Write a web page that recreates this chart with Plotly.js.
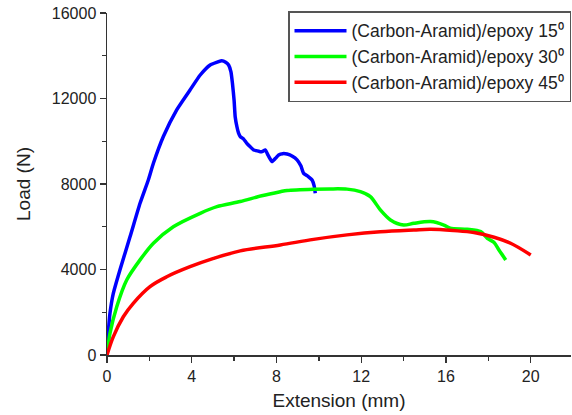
<!DOCTYPE html>
<html>
<head>
<meta charset="utf-8">
<script src="https://cdn.plot.ly/plotly-3.0.1.min.js"></script>
<style>html,body{margin:0;padding:0;background:#fff;}</style>
</head>
<body>
<div id="chart" style="width:572px;height:415px;"></div>
<script>
const seriesNames = ["(Carbon-Aramid)/epoxy 15\u2070", "(Carbon-Aramid)/epoxy 30\u2070", "(Carbon-Aramid)/epoxy 45\u2070"];
const seriesColors = ["#0000ff", "#00ff00", "#ff0000"];

const ext15 = [0, 0.03, 0.08, 0.14, 0.3, 0.61, 1.09, 1.56, 1.95, 2.19, 2.66, 3.29, 3.92, 4.40, 4.87, 5.2, 5.42, 5.6, 5.74, 5.85, 5.92, 6.0, 6.05, 6.13, 6.21, 6.29, 6.45, 6.6, 6.75, 6.92, 7.1, 7.23, 7.35, 7.47, 7.6, 7.79, 7.95, 8.1, 8.3, 8.5, 8.75, 8.97, 9.15, 9.28, 9.5, 9.68, 9.78, 9.83];
const load15 = [0, 600, 1300, 1950, 2890, 3980, 5540, 7100, 8190, 8970, 10220, 11470, 12400, 13100, 13570, 13700, 13770, 13700, 13570, 13250, 12720, 11900, 11150, 10690, 10375, 10220, 10100, 9900, 9750, 9590, 9550, 9510, 9530, 9590, 9350, 9050, 9200, 9360, 9420, 9400, 9300, 9130, 8850, 8500, 8350, 8190, 7900, 7570];

const ext30 = [0, 0.05, 0.14, 0.46, 0.93, 1.56, 2.19, 3.13, 4.4, 5.19, 6.29, 7.3, 8.18, 8.5, 9.75, 10.5, 11.33, 11.96, 12.43, 12.9, 13.38, 14.0, 14.48, 15.27, 15.9, 16.2, 17.0, 17.64, 17.95, 18.27, 18.5, 18.82];
const load30 = [0, 400, 1015, 2260, 3510, 4450, 5230, 6000, 6630, 6940, 7180, 7450, 7640, 7700, 7760, 7770, 7760, 7640, 7410, 6790, 6320, 6080, 6160, 6240, 6080, 5930, 5880, 5770, 5460, 5260, 4910, 4450];

const ext45 = [0, 0.3, 0.77, 1.24, 2.03, 2.82, 3.92, 5.03, 6.29, 8.18, 9.75, 11.33, 12.9, 14.48, 15.27, 16.37, 17.32, 18.27, 19.05, 20.0];
const load45 = [0, 860, 1790, 2420, 3200, 3660, 4130, 4520, 4870, 5150, 5410, 5620, 5770, 5850, 5880, 5820, 5730, 5510, 5230, 4680];

const xTickVals = [0, 4, 8, 12, 16, 20];
const yTickVals = [0, 4000, 8000, 12000, 16000];

const fontFam = "Liberation Sans, Arial, sans-serif";
const txtColor = "#222";

const data = [
  {x: ext15, y: load15, name: seriesNames[0], mode: "lines", line: {color: seriesColors[0], width: 3.5, shape: "spline", smoothing: 0.5}},
  {x: ext30, y: load30, name: seriesNames[1], mode: "lines", line: {color: seriesColors[1], width: 3.5, shape: "spline", smoothing: 0.8}},
  {x: ext45, y: load45, name: seriesNames[2], mode: "lines", line: {color: seriesColors[2], width: 3.5, shape: "spline", smoothing: 1}}
];

const layout = {
  width: 572, height: 415,
  margin: {l: 107, r: 1, t: 13, b: 60, pad: 0},
  paper_bgcolor: "#fff", plot_bgcolor: "#fff",
  font: {family: fontFam, color: txtColor, size: 16},
  showlegend: true,
  legend: {
    x: 1, xanchor: "right", y: 1.005, yanchor: "top",
    bgcolor: "#fff", bordercolor: "#555", borderwidth: 1.5,
    font: {family: fontFam, size: 17.5, color: txtColor},
    tracegroupgap: 0, itemwidth: 52
  },
  xaxis: {
    range: [0, 21.9], tickvals: xTickVals, ticktext: xTickVals.map(String),
    showline: true, linecolor: "#333", linewidth: 1.5, mirror: false,
    ticks: "outside", ticklen: 6, tickwidth: 1.3, tickcolor: "#333",
    minor: {dtick: 2, tick0: 0, ticks: "outside", ticklen: 4, tickwidth: 1.3, tickcolor: "#333", showgrid: false},
    showgrid: false, zeroline: false,
    tickfont: {size: 16, color: txtColor},
    title: {text: "Extension (mm)", font: {size: 19, color: txtColor}, standoff: 10}
  },
  yaxis: {
    range: [0, 16000], tickvals: yTickVals, ticktext: yTickVals.map(String),
    showline: true, linecolor: "#333", linewidth: 1.5, mirror: false,
    ticks: "outside", ticklen: 6, tickwidth: 1.3, tickcolor: "#333",
    minor: {dtick: 2000, tick0: 0, ticks: "outside", ticklen: 4, tickwidth: 1.3, tickcolor: "#333", showgrid: false},
    showgrid: false, zeroline: false,
    tickfont: {size: 16, color: txtColor},
    title: {text: "Load (N)", font: {size: 19, color: txtColor}, standoff: 16}
  }
};

Plotly.newPlot("chart", data, layout, {staticPlot: true, displayModeBar: false});
</script>
</body>
</html>
